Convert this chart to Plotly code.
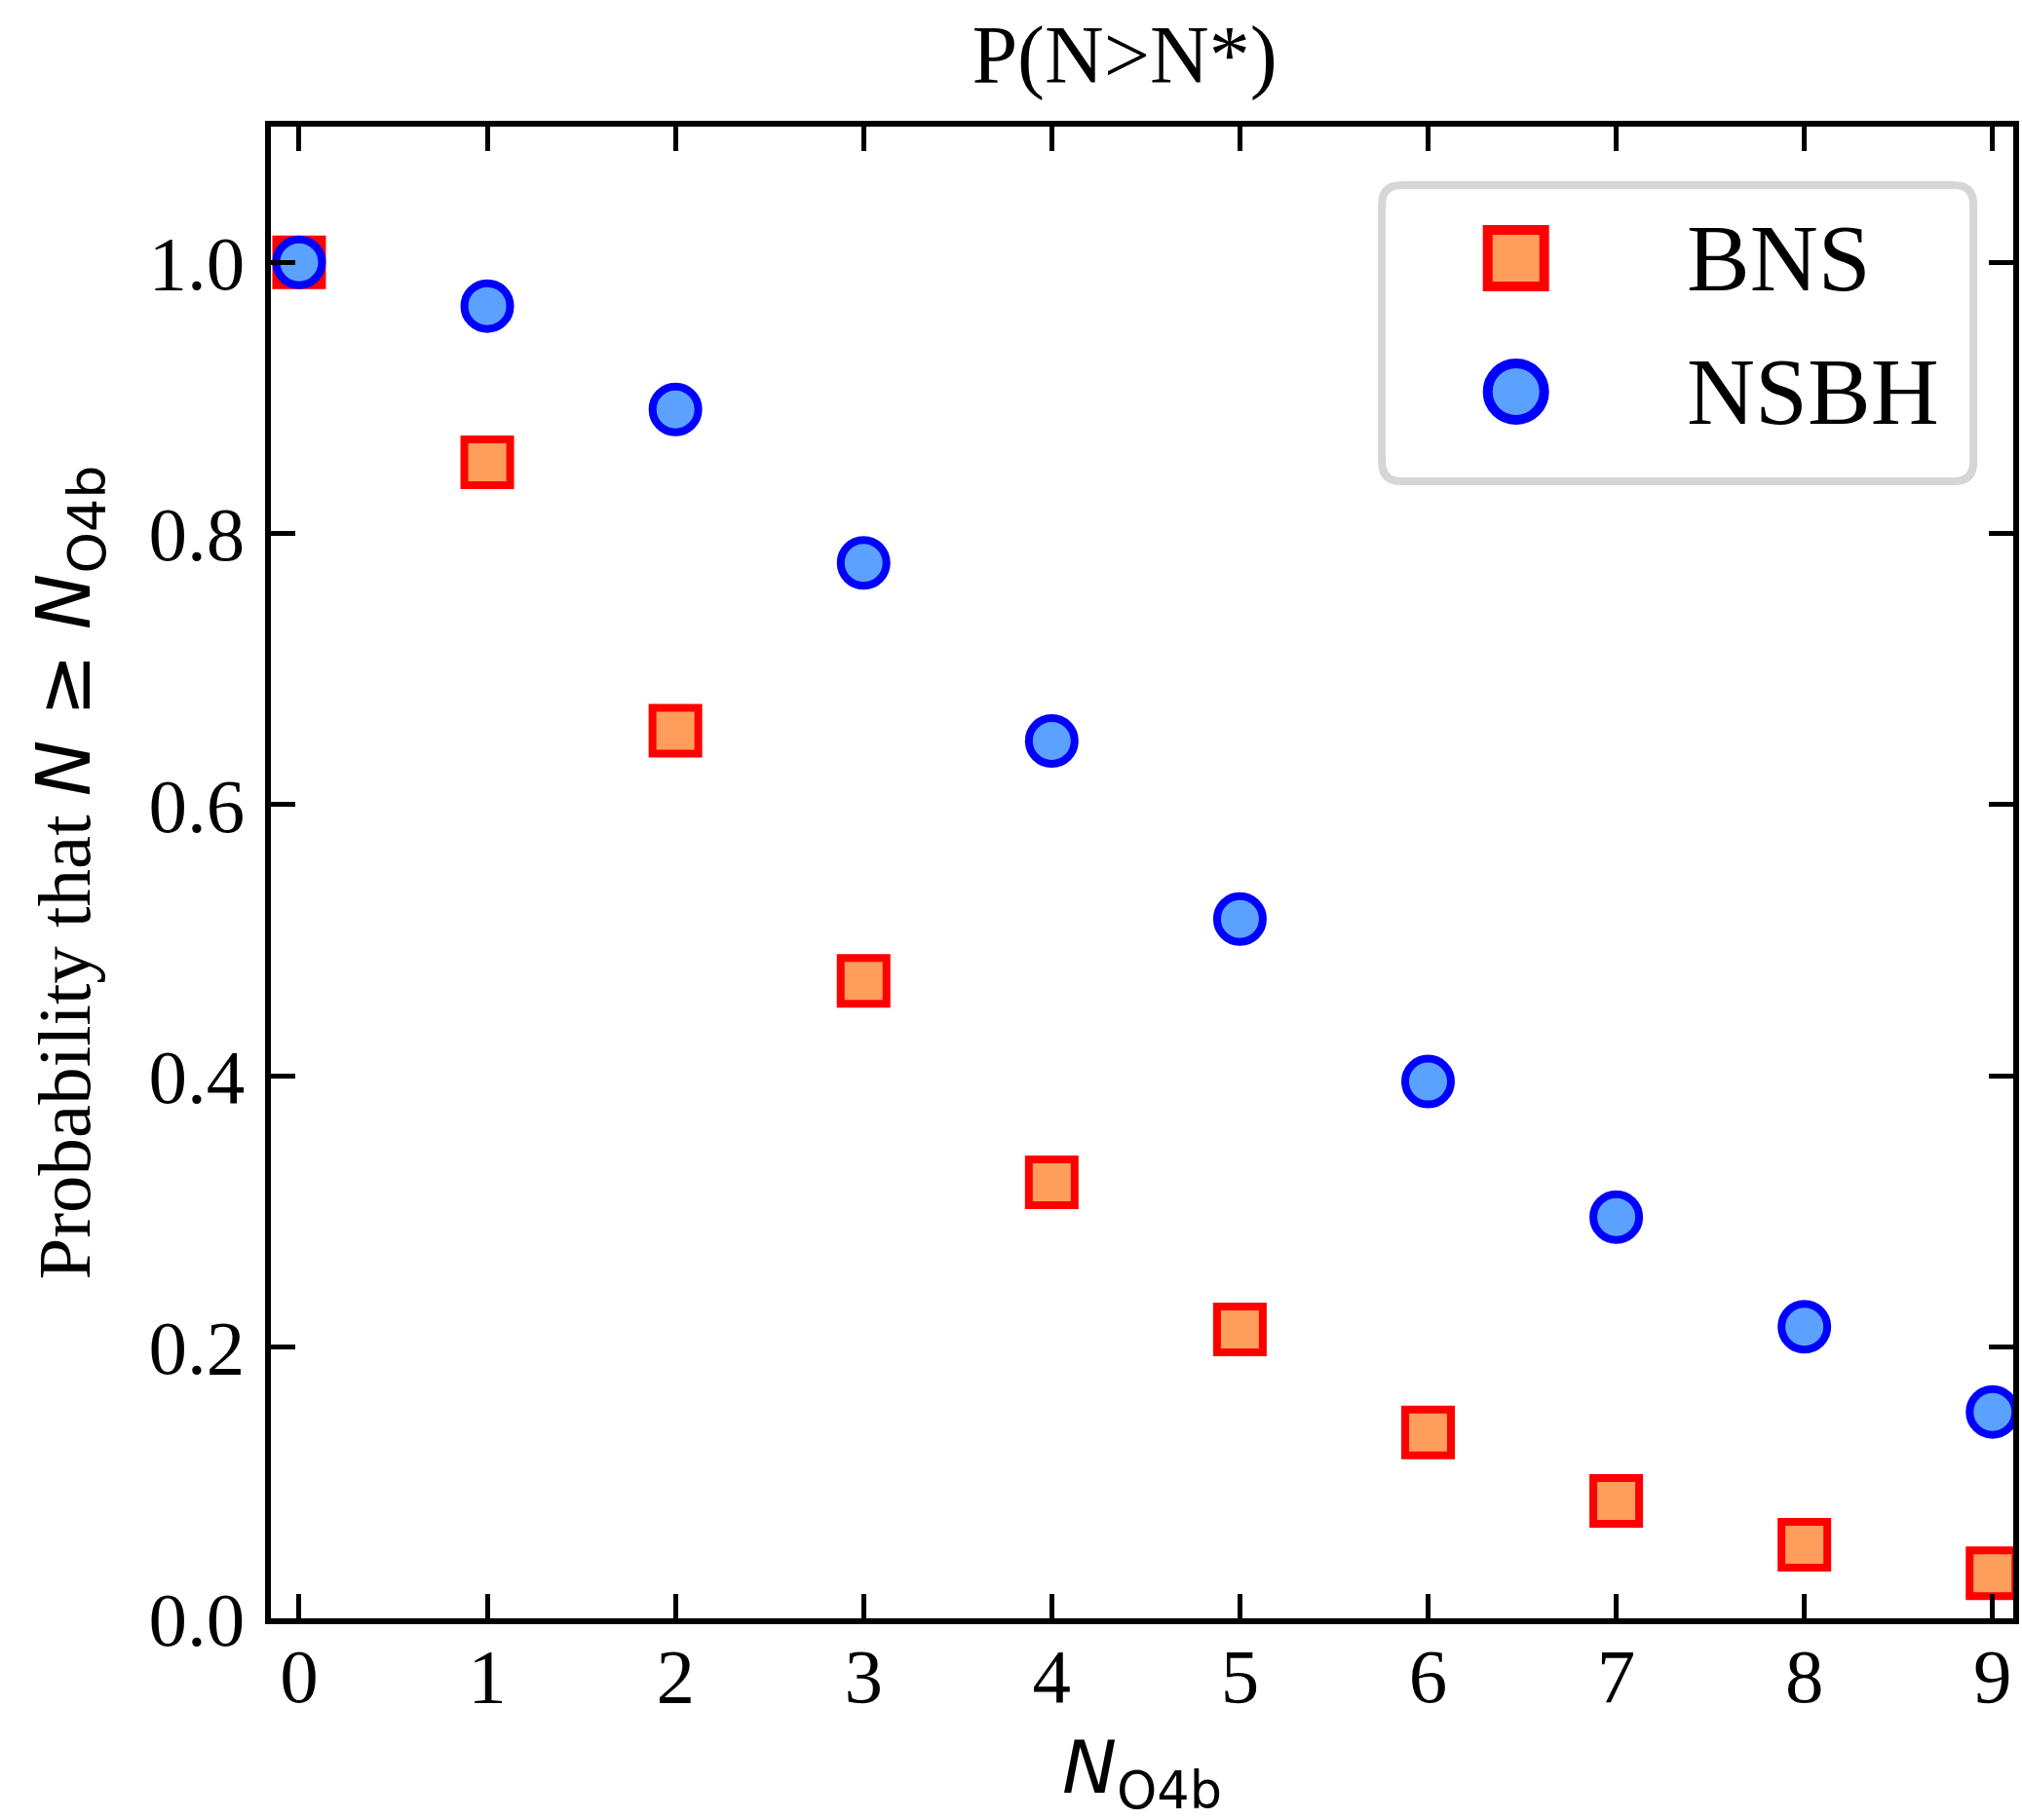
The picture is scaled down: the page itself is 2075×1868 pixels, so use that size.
import plotly.graph_objects as go

# ---- data ----
n_values = [0, 1, 2, 3, 4, 5, 6, 7, 8, 9]
bns_prob = [1.0, 0.8525, 0.6546, 0.470, 0.3216, 0.2131, 0.137, 0.0866, 0.0542, 0.0333]
nsbh_prob = [1.0, 0.9677, 0.8915, 0.7783, 0.647, 0.5157, 0.3958, 0.2959, 0.215, 0.1522]
y_ticks = [0.0, 0.2, 0.4, 0.6, 0.8, 1.0]
y_tick_labels = ["0.0", "0.2", "0.4", "0.6", "0.8", "1.0"]
series_names = ["BNS", "NSBH"]

W, H = 2075, 1868
L, R, T, B = 278, 3, 130, 207

SERIF = "Liberation Serif"
SANS = "DejaVu Sans"

BNS_FILL, BNS_EDGE = "#FF9E5B", "#FF0000"
NSBH_FILL, NSBH_EDGE = "#5BA1FF", "#0000FF"

fig = go.Figure()
fig.add_trace(go.Scatter(x=n_values, y=bns_prob, mode="markers", name=series_names[0],
                         marker=dict(symbol="square", size=47, color=BNS_FILL,
                                     line=dict(color=BNS_EDGE, width=8)),
                         showlegend=False))
fig.add_trace(go.Scatter(x=n_values, y=nsbh_prob, mode="markers", name=series_names[1],
                         marker=dict(symbol="circle", size=47, color=NSBH_FILL,
                                     line=dict(color=NSBH_EDGE, width=8)),
                         showlegend=False))

# ---- custom legend on a pixel-mapped overlay axis pair ----
leg_marker_x = 1560
leg_rows_y = [265, 402]
fig.add_trace(go.Scatter(x=[leg_marker_x], y=[leg_rows_y[0]], mode="markers",
                         marker=dict(symbol="square", size=58, color=BNS_FILL,
                                     line=dict(color=BNS_EDGE, width=10)),
                         xaxis="x2", yaxis="y2", showlegend=False, cliponaxis=False, hoverinfo="skip"))
fig.add_trace(go.Scatter(x=[leg_marker_x], y=[leg_rows_y[1]], mode="markers",
                         marker=dict(symbol="circle", size=58, color=NSBH_FILL,
                                     line=dict(color=NSBH_EDGE, width=10)),
                         xaxis="x2", yaxis="y2", showlegend=False, cliponaxis=False, hoverinfo="skip"))

x0, x1, y0, y1, r = 1422, 2031, 190, 494, 20
path = (f"M {x0+r},{y0} L {x1-r},{y0} Q {x1},{y0} {x1},{y0+r} L {x1},{y1-r} "
        f"Q {x1},{y1} {x1-r},{y1} L {x0+r},{y1} Q {x0},{y1} {x0},{y1-r} "
        f"L {x0},{y0+r} Q {x0},{y0} {x0+r},{y0} Z")
fig.add_shape(type="path", path=path, xref="x2", yref="y2",
              line=dict(color="#D6D6D6", width=8), fillcolor="white", layer="below")

for name, yy in zip(series_names, leg_rows_y):
    fig.add_annotation(x=1734, y=yy, xref="x2", yref="y2", text=name, showarrow=False,
                       xanchor="left", yanchor="middle", font=dict(family=SERIF, size=97, color="black"))

axis_common = dict(showline=True, linewidth=6, linecolor="black", mirror="ticks",
                   ticks="inside", ticklen=25, tickwidth=5, tickcolor="black",
                   showgrid=False, zeroline=False,
                   tickfont=dict(family=SERIF, size=79, color="black"))

fig.update_layout(
    width=W, height=H,
    margin=dict(l=L, r=R, t=T, b=B),
    plot_bgcolor="white", paper_bgcolor="white",
    title=dict(text="P(N&gt;N*)", x=(1157 - L) / (W - L - R), xref="paper", xanchor="center",
               y=1 - 56 / H, yref="container", yanchor="middle",
               font=dict(family=SERIF, size=84, color="black")),
    xaxis=dict(range=[-0.15, 9.11], tickmode="array", tickvals=n_values,
               ticktext=[str(v) for v in n_values], ticklabelstandoff=-15,
               title=dict(text="<i>N</i><sub>O4b</sub>", font=dict(family=SANS, size=75, color="black"),
                          standoff=47),
               **axis_common),
    yaxis=dict(range=[0, 1.1], tickmode="array", tickvals=y_ticks, ticktext=y_tick_labels,
               ticklabelstandoff=5,
               title=dict(text=("Probability that <span style=\"font-family:DejaVu Sans\">"
                                "<i>N</i> ≥ <i>N</i><sub>O4b</sub></span>"),
                          font=dict(family=SERIF, size=77, color="black"), standoff=37),
               **axis_common),
    xaxis2=dict(overlaying="x", range=[L, W - R], anchor="y2", visible=False, fixedrange=True),
    yaxis2=dict(overlaying="y", range=[H - B, T], anchor="x2", visible=False, fixedrange=True),
    showlegend=False,
)

fig.write_html("out.html")
